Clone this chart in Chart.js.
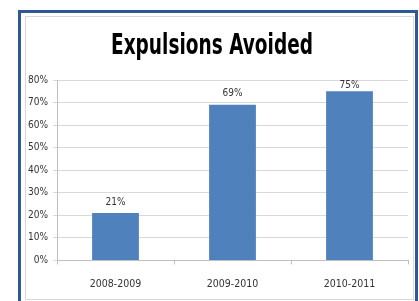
<!DOCTYPE html>
<html>
<head>
<meta charset="utf-8">
<script src="https://cdn.jsdelivr.net/npm/chart.js@4"></script>
<style>
  body { margin: 0; background: #fff; }
  #frame { position: absolute; left: 18px; top: 10px; width: 394px; height: 320px; border: 3px solid #2f5894; border-bottom: none; }
  #inner { position: absolute; left: 25px; top: 16px; width: 387px; height: 282px; border: 1px solid #d9d9d9; }
  #wrap { position: absolute; left: 0; top: 0; width: 419px; height: 301px; }
</style>
</head>
<body>
<div id="frame"></div>
<div id="inner"></div>
<div id="wrap"><canvas id="expulsionChart" width="419" height="301"></canvas></div>
<script>
const years = ['2008-2009', '2009-2010', '2010-2011'];
const avoided = [21, 69, 75];
const yMax = 80;
const chartTitle = 'Expulsions Avoided';

const fontName = "'DejaVu Sans Condensed', 'Liberation Sans Narrow', sans-serif";

// narrow bold title, squeezed like Calibri
const narrowTitle = {
    id: 'narrowTitle',
    afterDraw: (chart) => {
        const ctx = chart.ctx;
        ctx.save();
        ctx.font = 'bold 29px ' + fontName;
        ctx.fillStyle = '#000';
        ctx.textAlign = 'center';
        ctx.textBaseline = 'middle';
        ctx.translate(212, 46);
        ctx.scale(0.71, 1);
        ctx.fillText(chartTitle, 0, 0);
        ctx.restore();
    }
};

// percent labels above each bar
const barLabels = {
    id: 'barLabels',
    afterDatasetsDraw: (chart) => {
        const ctx = chart.ctx;
        const meta = chart.getDatasetMeta(0);
        ctx.save();
        ctx.font = '10px ' + fontName;
        ctx.fillStyle = '#333';
        ctx.textAlign = 'center';
        ctx.textBaseline = 'middle';
        meta.data.forEach((bar, i) => {
            const y = Math.max(bar.y - 11, chart.chartArea.top + 5);
            ctx.fillText(avoided[i] + '%', bar.x, y);
        });
        ctx.restore();
    }
};

const expulsionChart = new Chart(document.getElementById('expulsionChart'), {
    type: 'bar',
    data: {
        labels: years,
        datasets: [{
            label: chartTitle,
            data: avoided,
            backgroundColor: '#4f81bd',
            barPercentage: 0.4,
            categoryPercentage: 1.0
        }]
    },
    plugins: [barLabels, narrowTitle],
    options: {
        responsive: false,
        animation: false,
        layout: { padding: { left: 0, right: 11, top: 80, bottom: -4 } },
        plugins: {
            legend: { display: false },
            tooltip: { enabled: false },
            title: { display: false }
        },
        scales: {
            x: {
                grid: { offset: true, drawOnChartArea: false, tickLength: 4, color: '#bfbfbf' },
                border: { color: '#bfbfbf' },
                ticks: { color: '#333', font: { family: fontName, size: 10.5 }, padding: 14 }
            },
            y: {
                min: 0,
                max: yMax,
                afterFit: (scale) => { scale.width = 57; },
                grid: { color: '#d9d9d9', tickLength: 4 },
                border: { color: '#bfbfbf' },
                ticks: {
                    stepSize: 10,
                    color: '#333',
                    padding: 5,
                    font: { family: fontName, size: 10 },
                    callback: (v) => v + '%'
                }
            }
        }
    }
});
</script>
</body>
</html>
